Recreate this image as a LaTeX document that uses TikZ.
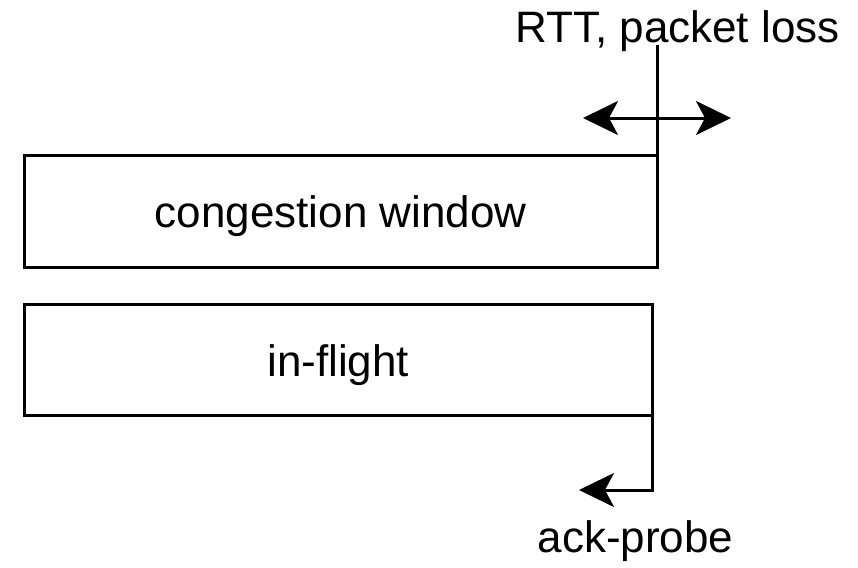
\documentclass[tikz,border=0pt]{standalone}
\usepackage{fontspec}
\setmainfont{Liberation Sans}
\usetikzlibrary{arrows.meta}
\begin{document}
\begin{tikzpicture}[x=1pt,y=-1pt,
  box/.style={draw=black, line width=3pt, inner sep=0pt, outer sep=0pt, text height=32pt, text depth=0pt},
  lbl/.style={inner sep=0pt, anchor=base},
  conn/.style={draw=black, line width=3pt},
  hd/.tip={Stealth[length=35pt,width=34pt,inset=9pt]},
  font=\fontsize{44}{50}\selectfont]
\useasboundingbox (0,0) rectangle (858,567);
\node[box, minimum width=632.5pt, minimum height=111.5pt] (cw) at (340.75,211.25) {congestion window};
\node[box, minimum width=627.5pt, minimum height=111pt] (inf) at (338.25,360) {in-flight};
\node[lbl] (rtt) at (677.5,43) {RTT, packet loss};
\node[lbl] (ack) at (635.5,552) {ack-probe};
\coordinate (top) at (657,45);
\coordinate (al) at (583,118);
\coordinate (ar) at (731,118);
\coordinate (ab) at (652,490);
\coordinate (aend) at (579,490);
\draw[conn] (top) -- (cw.north east);
\draw[conn, hd-hd] (al) -- (ar);
\draw[conn, -hd] (inf.south east) -- (ab) -- (aend);
\end{tikzpicture}
\end{document}
